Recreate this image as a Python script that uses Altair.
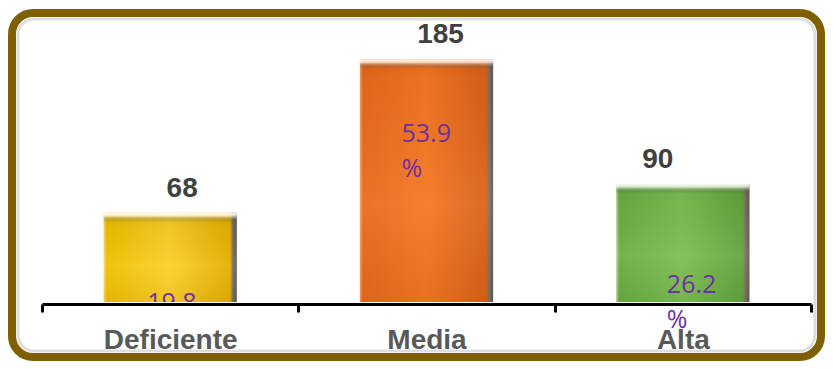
import altair as alt
import pandas as pd

# ---- data ----
categories = ["Deficiente", "Media", "Alta"]
counts = [68, 185, 90]
percents = [19.8, 53.9, 26.2]

df = pd.DataFrame({"categoria": categories, "n": counts, "pct": percents})
df["pct_label"] = df["pct"].map(lambda v: f"{v:.1f}\n%")

# ---- layout / style ----
W, H = 769, 282
Y_MAX = 215
PX_PER_UNIT = H / Y_MAX

palette = {
    "Deficiente": ("#f7e27a", "#f0c000", "#fbd02a", "#e6b000"),
    "Media": ("#f4a268", "#e8691c", "#f57722", "#d9621a"),
    "Alta": ("#b4d896", "#6aad42", "#7cbf52", "#62a43c"),
}
value_dx = {"Deficiente": 12, "Media": 14, "Alta": -25}
pct_dx = {"Deficiente": -23, "Media": -25, "Alta": -16}
pct_dy = {"Deficiente": 98, "Media": 83, "Alta": 109}

x_enc = alt.X(
    "categoria:N",
    sort=categories,
    scale=alt.Scale(paddingInner=0, paddingOuter=0),
    axis=alt.Axis(
        title=None,
        labelAngle=0,
        domainColor="black",
        domainWidth=3,
        tickColor="black",
        tickWidth=3,
        tickSize=8,
        tickBand="extent",
        offset=2,
        labelFont="Liberation Sans",
        labelFontSize=28,
        labelFontWeight="bold",
        labelColor="#595959",
        labelPadding=14,
        grid=False,
        zindex=1,
    ),
)
y_enc = alt.Y("n:Q", scale=alt.Scale(domain=[0, Y_MAX], nice=False, zero=True), axis=None)

base = alt.Chart(df)

# frame
frame = alt.Chart(alt.Data(values=[{}])).mark_rect(
    fill="white", stroke="#7f6000", strokeWidth=8, cornerRadius=21
).encode(
    x=alt.value(-30), x2=alt.value(779), y=alt.value(-7), y2=alt.value(337)
)
frame_shadow = alt.Chart(alt.Data(values=[{}])).mark_rect(
    fill="white", stroke="#dedede", strokeWidth=3, cornerRadius=16
).encode(
    x=alt.value(-24), x2=alt.value(773), y=alt.value(-1), y2=alt.value(331)
)

layers = [frame, frame_shadow]

for cat, n in zip(categories, counts):
    light, mid, center, dark = palette[cat]
    h_grad = alt.Gradient(
        gradient="linear",
        x1=0, x2=1, y1=0, y2=0,
        stops=[
            alt.GradientStop(color=light, offset=0),
            alt.GradientStop(color=mid, offset=0.025),
            alt.GradientStop(color=center, offset=0.5),
            alt.GradientStop(color=dark, offset=0.95),
            alt.GradientStop(color="#7a7263", offset=0.97),
            alt.GradientStop(color="#5f5b52", offset=1),
        ],
    )
    t = 3.0 / (n * PX_PER_UNIT)
    v_grad = alt.Gradient(
        gradient="linear",
        x1=0, x2=0, y1=0, y2=1,
        stops=[
            alt.GradientStop(color="rgba(255,255,255,0.95)", offset=0),
            alt.GradientStop(color="rgba(255,255,255,0.7)", offset=t),
            alt.GradientStop(color="rgba(0,0,0,0.07)", offset=min(t * 3, 0.4)),
            alt.GradientStop(color="rgba(0,0,0,0.04)", offset=min(t * 6, 0.5)),
            alt.GradientStop(color="rgba(255,255,255,0.06)", offset=0.6),
            alt.GradientStop(color="rgba(0,0,0,0.05)", offset=1),
        ],
    )
    sub = base.transform_filter(alt.datum.categoria == cat)
    layers.append(sub.mark_bar(color=h_grad, width={"band": 0.52}).encode(x=x_enc, y=y_enc))
    layers.append(sub.mark_bar(color=v_grad, width={"band": 0.52}).encode(x=x_enc, y=y_enc))
    layers.append(
        sub.mark_text(
            font="Liberation Sans",
            fontSize=28,
            fontWeight="bold",
            color="#404040",
            baseline="alphabetic",
            dx=value_dx[cat],
            dy=-16,
        ).encode(x=x_enc, y=y_enc, text="n:Q")
    )
    layers.append(
        sub.mark_text(
            font="Open Sans",
            fontSize=25,
            color="#7030a0",
            align="left",
            baseline="alphabetic",
            lineBreak="\n",
            lineHeight=35,
            dx=pct_dx[cat],
            dy=pct_dy[cat],
            clip=(cat == "Deficiente"),
        ).encode(x=x_enc, y=y_enc, text="pct_label:N")
    )

chart = (
    alt.layer(*layers)
    .properties(
        width=W,
        height=H,
        autosize=alt.AutoSizeParams(type="none"),
        padding={"left": 34, "top": 12, "right": 14, "bottom": 59},
    )
    .configure_view(stroke=None)
)

chart.save("out.html", embed_options={"renderer": "svg", "actions": False})
